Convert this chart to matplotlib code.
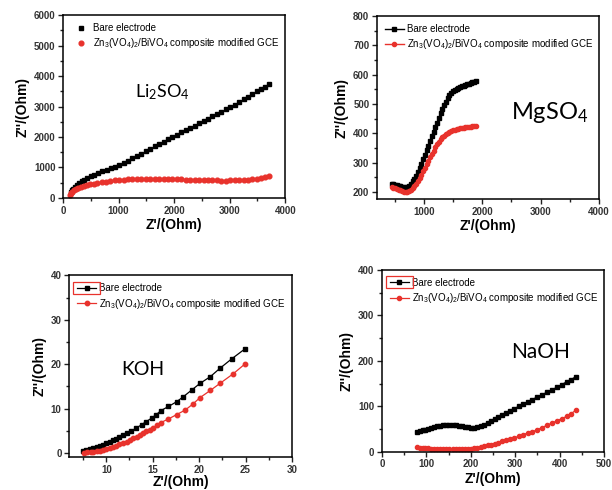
import matplotlib
matplotlib.use('Agg')
import matplotlib.pyplot as plt
from matplotlib.patches import Rectangle
from matplotlib.ticker import MultipleLocator

plt.rcParams['font.family'] = ['Liberation Sans', 'DejaVu Sans']
plt.rcParams['mathtext.fontset'] = 'custom'
plt.rcParams['mathtext.rm'] = 'Lato'
plt.rcParams['mathtext.default'] = 'regular'

RED = '#e8322c'
LABEL_BARE = 'Bare electrode'
LABEL_COMP = 'Zn$_3$(VO$_4$)$_2$/BiVO$_4$ composite modified GCE'

# Li2SO4 electrolyte
li_bare_x = [140, 160, 185, 215, 250, 290, 335, 385, 440, 500, 565, 635, 710, 785, 860, 935,
             1010, 1090, 1170, 1250, 1330, 1410, 1490, 1570, 1650, 1730, 1810, 1890, 1970, 2050,
             2130, 2210, 2290, 2370, 2450, 2530, 2610, 2690, 2770, 2850, 2930, 3010, 3090, 3170,
             3250, 3330, 3410, 3490, 3560, 3630, 3700]
li_bare_y = [190, 250, 310, 370, 430, 490, 545, 600, 650, 705, 760, 815, 870, 925, 975, 1025,
             1070, 1147, 1225, 1303, 1380, 1458, 1535, 1613, 1690, 1768, 1846, 1923, 2001, 2077,
             2152, 2227, 2303, 2378, 2453, 2528, 2603, 2679, 2754, 2829, 2904, 2981, 3068, 3155,
             3243, 3330, 3417, 3505, 3581, 3657, 3730]
li_comp_x = [125, 145, 170, 200, 235, 275, 320, 370, 425, 485, 550, 620, 695, 770, 850, 930,
             1010, 1090, 1170, 1250, 1330, 1410, 1490, 1570, 1650, 1730, 1810, 1890, 1970, 2050,
             2130, 2210, 2290, 2370, 2450, 2530, 2610, 2690, 2770, 2850, 2930, 3010, 3090, 3170,
             3250, 3330, 3410, 3490, 3560, 3630, 3700]
li_comp_y = [110, 160, 205, 250, 290, 325, 360, 390, 420, 445, 470, 495, 520, 540, 560, 575,
             590, 600, 607, 612, 616, 619, 621, 622, 622, 621, 620, 618, 616, 613,
             610, 606, 602, 597, 592, 587, 582, 578, 574, 572, 572, 574, 578, 584,
             592, 603, 618, 638, 660, 688, 720]

# MgSO4 electrolyte
mg_x = [450, 480, 510, 540, 570, 600, 630, 660, 690, 720, 750, 780, 810, 840, 870, 900, 930,
        960, 990, 1020, 1050, 1080, 1110, 1140, 1170, 1200, 1230, 1260, 1290, 1320, 1350, 1380,
        1410, 1440, 1470, 1500, 1530, 1560, 1590, 1620, 1650, 1680, 1710, 1740, 1770, 1800,
        1830, 1860, 1890]
mg_bare_y = [228, 227, 225, 223, 221, 219, 217, 216, 215, 217, 221, 228, 236, 245, 256, 268, 282,
             296, 311, 327, 343, 358, 374, 390, 406, 421, 436, 453, 470, 484, 497, 508,
             520, 530, 537, 543, 548, 552, 555, 558, 561, 563, 566, 568, 570, 572,
             574, 575, 577]
mg_comp_y = [216, 214, 212, 210, 208, 205, 203, 201, 199, 200, 203, 208, 214, 221, 228, 237, 247,
             258, 270, 282, 294, 306, 318, 330, 341, 352, 362, 371, 379, 386, 392, 397,
             401, 405, 408, 411, 413, 415, 416, 417, 418, 419, 420, 421, 422, 423,
             424, 425, 426]

# KOH electrolyte
koh_bare_x = [7.5, 7.8, 8.2, 8.6, 9.0, 9.3, 9.7, 10.0, 10.4, 10.7, 11.1, 11.4, 11.8, 12.2, 12.7,
              13.2, 13.8, 14.3, 14.9, 15.4, 15.9, 16.7, 17.6, 18.3, 19.2, 20.1, 21.2, 22.25,
              23.5, 24.9]
koh_bare_y = [0.6, 0.7, 0.9, 1.1, 1.4, 1.6, 1.9, 2.2, 2.6, 3.0, 3.3, 3.7, 4.1, 4.5, 5.0,
              5.6, 6.4, 7.1, 7.9, 8.7, 9.6, 10.5, 11.6, 12.7, 14.2, 15.7, 17.2, 19.1,
              21.2, 23.4]
koh_comp_x = [7.6, 7.9, 8.3, 8.6, 9.0, 9.3, 9.7, 10.0, 10.4, 10.7, 11.1, 11.4, 11.8, 12.2, 12.6,
              12.9, 13.3, 13.6, 14.0, 14.3, 14.7, 15.0, 15.5, 15.9, 16.7, 17.6, 18.5, 19.3,
              20.1, 21.2, 22.25, 23.7, 24.9]
koh_comp_y = [0.1, 0.2, 0.3, 0.3, 0.5, 0.6, 0.8, 1.0, 1.2, 1.5, 1.7, 2.0, 2.3, 2.6, 3.0,
              3.4, 3.7, 4.1, 4.5, 4.9, 5.3, 5.6, 6.3, 6.9, 7.7, 8.7, 9.7, 11.0,
              12.5, 14.1, 15.7, 17.9, 20.0]

# NaOH electrolyte
naoh_x = [80, 86, 92, 98, 104, 110, 117, 124, 131, 138, 145, 152, 159, 166, 173, 180, 187, 194,
          201, 208, 215, 222, 230, 238, 246, 254, 262, 271, 280, 289, 298, 308, 318, 328, 338,
          349, 360, 371, 382, 394, 405, 416, 426, 436]
naoh_bare_y = [43, 45, 47, 49, 51, 53, 55, 56, 57, 58, 58, 58, 58, 58, 57, 56, 55, 54,
               53, 53, 54, 56, 60, 64, 68, 72, 76, 81, 86, 90, 95, 100, 105, 110, 115,
               120, 125, 131, 136, 142, 148, 154, 159, 165]
naoh_comp_y = [10, 9, 9, 8, 8, 7, 7, 6, 6, 6, 6, 6, 6, 6, 6, 6, 6, 6,
               7, 8, 9, 10, 12, 14, 16, 18, 20, 23, 26, 29, 31, 34, 38, 41, 44,
               48, 53, 58, 63, 68, 73, 78, 84, 91]


def setup_axes(ax, xlim, ylim, xstep, ystep, xlabelpad=2):
    ax.set_xlim(*xlim)
    ax.set_ylim(*ylim)
    ax.xaxis.set_major_locator(MultipleLocator(xstep))
    ax.xaxis.set_minor_locator(MultipleLocator(xstep / 2))
    ax.yaxis.set_major_locator(MultipleLocator(ystep))
    ax.yaxis.set_minor_locator(MultipleLocator(ystep / 2))
    ax.tick_params(which='both', direction='out', top=False, right=False,
                   width=1.0, color='#222222')
    ax.tick_params(which='major', length=3.5, labelsize=7, labelcolor='#333333', pad=2)
    ax.tick_params(which='minor', length=2)
    for lab in ax.get_xticklabels() + ax.get_yticklabels():
        lab.set_fontweight('bold')
    for sp in ax.spines.values():
        sp.set_linewidth(1.1)
    ax.set_xlabel("Z'/(Ohm)", fontsize=10, fontweight='bold', labelpad=xlabelpad)
    ax.set_ylabel("Z''/(Ohm)", fontsize=10, fontweight='bold', labelpad=3)


def add_legend(ax):
    return ax.legend(loc='upper left', frameon=False, fontsize=7, handlelength=2.0,
                     handletextpad=0.3, labelspacing=0.35, borderaxespad=0.4)


fig = plt.figure(figsize=(6.12, 4.9), dpi=100)
ax1 = fig.add_axes([0.103, 0.596, 0.363, 0.373])
ax2 = fig.add_axes([0.616, 0.594, 0.363, 0.373])
ax3 = fig.add_axes([0.113, 0.067, 0.364, 0.371])
ax4 = fig.add_axes([0.624, 0.078, 0.363, 0.371])

# Li2SO4 - markers only
ax1.plot(li_bare_x, li_bare_y, 's', color='black', ms=3.2, label=LABEL_BARE)
ax1.plot(li_comp_x, li_comp_y, 'o', color=RED, ms=3.4, label=LABEL_COMP)
setup_axes(ax1, (0, 4000), (0, 6000), 1000, 1000)
add_legend(ax1)
ax1.text(0.446, 0.58, 'Li$_2$SO$_4$', transform=ax1.transAxes, fontsize=13,
         family='Lato', ha='center', va='center')

# MgSO4
ax2.plot(mg_x, mg_bare_y, 's-', color='black', ms=3.0, lw=1.0, label=LABEL_BARE)
ax2.plot(mg_x, mg_comp_y, 'o-', color=RED, ms=3.0, lw=1.0, label=LABEL_COMP)
setup_axes(ax2, (200, 4000), (176, 800), 1000, 100)
add_legend(ax2)
ax2.text(0.775, 0.475, 'MgSO$_4$', transform=ax2.transAxes, fontsize=17,
         family='Lato', ha='center', va='center')

# KOH
ax3.plot(koh_bare_x, koh_bare_y, 's-', color='black', ms=3.2, lw=0.9, label=LABEL_BARE)
ax3.plot(koh_comp_x, koh_comp_y, 'o-', color=RED, ms=3.2, lw=0.9, label=LABEL_COMP)
setup_axes(ax3, (6, 30), (-0.9, 40), 5, 10, xlabelpad=0)
leg3 = add_legend(ax3)
ax3.text(0.33, 0.48, 'KOH', transform=ax3.transAxes, fontsize=14,
         family='Lato', ha='center', va='center')

# NaOH
ax4.plot(naoh_x, naoh_bare_y, 's-', color='black', ms=3.0, lw=0.9, label=LABEL_BARE)
ax4.plot(naoh_x, naoh_comp_y, 'o-', color=RED, ms=3.0, lw=0.9, label=LABEL_COMP)
setup_axes(ax4, (0, 500), (0, 400), 100, 100)
leg4 = add_legend(ax4)
ax4.text(0.716, 0.55, 'NaOH', transform=ax4.transAxes, fontsize=15,
         family='Lato', ha='center', va='center')

# red box drawn round the first legend handle in the lower panels
fig.canvas.draw()
renderer = fig.canvas.get_renderer()
for leg in (leg3, leg4):
    bb = leg.legend_handles[0].get_window_extent(renderer)
    bb = bb.transformed(fig.transFigure.inverted())
    fig.patches.append(Rectangle((bb.x0 - 0.003, bb.y0 - 0.008), bb.width + 0.006,
                                 bb.height + 0.016, transform=fig.transFigure,
                                 fill=False, edgecolor=RED, lw=0.9))

fig.savefig('out.png', dpi=100)
